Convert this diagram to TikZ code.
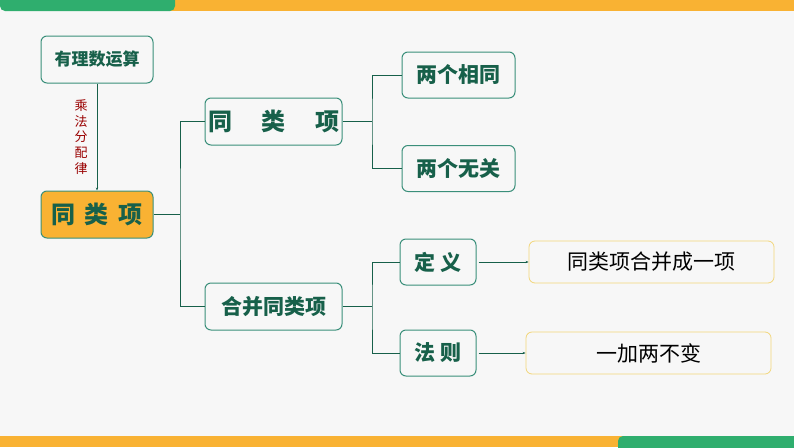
\documentclass[tikz,border=0pt]{standalone}
\usepackage{fontspec}
\setmainfont{Noto Sans CJK SC}
\newfontfamily\cjkb{Noto Sans CJK SC Black}
\usetikzlibrary{arrows.meta}
\definecolor{teal}{HTML}{3A8F7A}
\definecolor{dg}{HTML}{17604A}
\definecolor{org}{HTML}{F9B233}
\definecolor{gbar}{HTML}{2FAE6E}
\definecolor{bg}{HTML}{F7F7F7}
\definecolor{yb}{HTML}{F2D67A}
\newcommand{\fs}[1]{\fontsize{#1}{#1}\selectfont}
\begin{document}
\begin{tikzpicture}[x=1pt,y=-1pt,
 gbox/.style={draw=teal,line width=1pt,rounded corners=6pt,fill=bg,text=dg,font=\cjkb\fs{21},inner sep=0pt},
 ybox/.style={draw=yb,line width=0.8pt,rounded corners=6pt,fill=bg,text=black,font=\fs{21},inner sep=0pt},
 ln/.style={dg,line width=1pt},
 ar/.style={dg,line width=0.6pt,-{Stealth[length=3pt]}}]
\fill[bg] (0,0) rectangle (794,447);
\useasboundingbox (0,0) rectangle (794,447);
\fill[org] (170,0) rectangle (794,11);
\fill[gbar,rounded corners=5pt] (0,-6) rectangle (175,11);
\fill[org] (0,436) rectangle (630,447);
\fill[gbar,rounded corners=5pt] (618,436) rectangle (800,453);
\node[gbox,font=\cjkb\fs{17},minimum width=112pt,minimum height=47pt] (a) at (97,59.5) {有理数运算};
\node[gbox,font=\cjkb\fs{24},fill=org,minimum width=112pt,minimum height=47pt] (b) at (97,214.5) {同\,\ 类\,\ 项};
\draw[ar] (a.south) -- (b.north);
\node[text=red!60!black,font=\fs{13}\linespread{1.2}\selectfont,align=center] (lbl) at (81,137) {乘\\法\\分\\配\\律};
\node[gbox,font=\cjkb\fs{24},minimum width=137pt,minimum height=47pt] (c) at (273.5,121.5) {同\quad\ 类\quad\ 项};
\node[gbox,minimum width=137pt,minimum height=47pt] (d) at (273.5,306.5) {合并同类项};
\node[gbox,minimum width=113pt,minimum height=46pt] (e) at (458.5,75) {两个相同};
\node[gbox,minimum width=113pt,minimum height=46pt] (f) at (458.5,168.5) {两个无关};
\node[gbox,minimum width=76pt,minimum height=46pt] (g) at (438,262) {定\ 义};
\node[gbox,minimum width=76pt,minimum height=46pt] (h) at (438,353) {法\ 则};
\node[ybox,minimum width=245pt,minimum height=42pt] (i) at (651.5,262) {同类项合并成一项};
\node[ybox,minimum width=245pt,minimum height=42pt] (j) at (648.5,353) {一加两不变};
\coordinate (k1) at (180,214.5);
\draw[ln] (b.east) -- (k1);
\draw[ln] (c.west) -| (k1) |- (d.west);
\coordinate (k2) at (372,121.5);
\draw[ln] (c.east) -- (k2);
\draw[ln] (e.west) -| (k2) |- (f.west);
\coordinate (k3) at (372,306.5);
\draw[ln] (d.east) -- (k3);
\draw[ln] (g.west) -| (k3) |- (h.west);
\draw[ar] (g.east) ++(2,0) -- (i.west);
\draw[ar] (h.east) ++(2,0) -- (j.west);
\end{tikzpicture}
\end{document}
